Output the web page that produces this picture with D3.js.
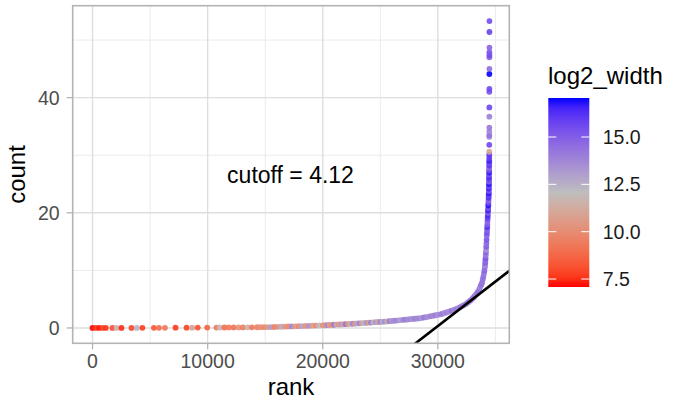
<!DOCTYPE html>
<meta charset="utf-8">
<head>
  <title>count vs rank</title>
  <script src="https://d3js.org/d3.v7.min.js"></script>
  <style>
    body { margin: 0; background: #fff; }
    text { font-family: "Liberation Sans", Arial, sans-serif; }
    .grid-major { stroke: #dedede; stroke-width: 1.4px; }
    .grid-minor { stroke: #ebebeb; stroke-width: 1px; }
    .tick-mark { stroke: #b3b3b3; stroke-width: 1.3px; }
    .tick-label { font-size: 19.5px; fill: #4d4d4d; }
  </style>
</head>
<body>
<script>

// points, in rank order
var rank = [
  0, 290, 570, 870, 1150, 1730, 2080, 2510, 3380, 3840, 4330, 5330, 5770, 6290, 7210,
  8170, 8660, 9140, 9960, 10760, 11050, 11450, 11830, 12260, 12690, 13070, 13470, 13850, 14290, 14580,
  14900, 15200, 15500, 15800, 16100, 16400, 16700, 17000, 17300, 17600, 17900, 18200, 18500, 18800, 19100, 19400, 19700, 20000,
  20200, 20400, 20600, 20800, 21000, 21200, 21400, 21600, 21800, 22000,
  22200, 22400, 22600, 22800, 23000, 23200, 23400, 23600, 23800, 24000,
  24200, 24400, 24600, 24800, 25000, 25200, 25400, 25600, 25800, 26000,
  26200, 26400, 26600, 26800, 27000, 27200, 27400, 27600, 27800, 28000,
  28200, 28400, 28600, 28800, 29000, 29200, 29400, 29600, 29800, 30000,
  30200, 30400, 30600, 30800, 31000, 31200, 31400, 31600, 31800, 32000, 32200, 32400,
  32550, 32700, 32850, 33000, 33100, 33200, 33300, 33400, 33500, 33600, 33700, 33780, 33850,
  33900, 33950, 34000, 34040, 34080, 34100, 34115, 34130, 34145, 34160, 34175, 34190, 34205, 34220, 34235, 34250,
  34262, 34275, 34287, 34300, 34312, 34325, 34337, 34350,
  34360, 34370, 34380, 34390, 34400, 34410, 34420,
  34425, 34430, 34434, 34437, 34440, 34443, 34446, 34448, 34450, 34452, 34454, 34456, 34458, 34460, 34462,
  34464, 34465, 34466, 34467, 34468, 34469, 34470, 34471, 34472, 34473,
  34474, 34475, 34476, 34477, 34478, 34479, 34480, 34481, 34482, 34483
];

var count = [
  0, 0, 0, 0, 0, 0, 0, 0, 0.01, 0.01, 0.02, 0.02, 0.03, 0.03, 0.04,
  0.05, 0.05, 0.06, 0.06, 0.07, 0.08, 0.08, 0.09, 0.09, 0.1, 0.1, 0.11, 0.11, 0.12, 0.13,
  0.13, 0.15, 0.16, 0.17, 0.19, 0.21, 0.23, 0.25, 0.27, 0.29, 0.31, 0.33, 0.35, 0.37, 0.39, 0.41, 0.43, 0.45,
  0.47, 0.49, 0.51, 0.53, 0.56, 0.58, 0.60, 0.62, 0.64, 0.66,
  0.69, 0.71, 0.73, 0.75, 0.78, 0.81, 0.83, 0.86, 0.89, 0.92,
  0.94, 0.97, 1.00, 1.03, 1.05, 1.08, 1.11, 1.14, 1.17, 1.21,
  1.25, 1.29, 1.33, 1.37, 1.41, 1.44, 1.48, 1.52, 1.56, 1.60,
  1.64, 1.68, 1.74, 1.82, 1.89, 1.97, 2.05, 2.13, 2.21, 2.28,
  2.36, 2.47, 2.60, 2.73, 2.87, 3.00, 3.13, 3.30, 3.50, 3.70, 3.90, 4.10,
  4.33, 4.57, 4.83, 5.1, 5.3, 5.55, 5.8, 6.05, 6.3, 6.75, 7.2, 7.55, 7.9,
  8.4, 8.9, 9.4, 9.9, 10.5, 10.9, 11.3, 11.7, 12.1, 12.6, 13.1, 13.6, 14.1, 14.7, 15.3, 16.0,
  16.5, 17.0, 17.5, 18.0, 18.5, 19.0, 19.5, 20.0,
  20.4, 20.8, 21.3, 21.7, 22.1, 22.6, 23.0,
  23.4, 23.8, 24.2, 24.6, 25.0, 25.4, 25.8, 26.2, 26.6, 27.0, 27.4, 27.8, 28.2, 28.6, 29.0,
  29.5, 30.1, 30.6, 31.8, 33.2, 33.5, 34.1, 34.8, 36.7, 38.3,
  41.0, 41.5, 44.1, 45.0, 47.0, 47.4, 47.9, 48.7, 51.4, 53.3
];

var log2Width = [
  7.08, 7.6, 7.2, 7.8, 7.5, 8.0, 11.6, 7.4, 7.9, 12.4, 7.7, 8.3, 8.9, 9.2, 7.6,
  7.8, 10.9, 8.1, 8.6, 9.3, 11.8, 9.0, 9.4, 9.1, 10.2, 9.5, 11.4, 9.3, 9.6, 10.1,
  9.8, 10.4, 13.2, 9.6, 10.1, 12.6, 10.3, 9.9, 13.8, 10.5, 10.0, 12.9, 10.2, 13.5, 10.6, 9.9, 12.2, 10.4,
  10.3, 13.6, 10.8, 10.1, 14.2, 11.2, 10.5, 13.1, 10.9, 14.4,
  10.6, 11.5, 13.8, 10.4, 12.7, 14.0, 10.9, 11.8, 13.5, 10.7,
  14.1, 12.2, 13.3, 11.0, 13.9, 12.5, 13.6, 11.4, 14.0, 13.2,
  13.6, 13.9, 13.4, 12.9, 13.8, 14.1, 13.5, 13.7, 13.3, 14.0,
  13.6, 13.8, 13.2, 14.2, 13.7, 13.5, 13.9, 13.6, 14.0, 13.4,
  13.8, 14.1, 13.6, 13.9, 13.5, 14.2, 13.8, 14.0, 13.7, 14.3, 13.9, 14.1,
  14.0, 13.8, 14.2, 13.9, 14.1, 14.3, 13.7, 14.0, 14.4, 14.1, 13.9, 14.5, 14.2,
  14.3, 14.6, 14.1, 14.8, 14.4, 13.6, 14.9, 14.5, 15.2, 14.2, 14.7, 13.4, 15.0, 14.6, 15.3, 14.8,
  15.5, 14.9, 16.2, 15.1, 14.7, 15.8, 16.4, 15.0,
  16.6, 15.4, 16.9, 15.7, 14.8, 16.3, 15.9,
  16.8, 15.2, 16.5, 15.6, 16.9, 14.9, 15.8, 16.4, 15.3, 16.7, 15.5, 14.6, 16.1, 15.4, 16.6,
  15.9, 16.2, 11.0, 15.6, 13.9, 14.3, 13.8, 14.2, 14.0, 15.7,
  15.4, 15.6, 17.06, 14.5, 15.0, 15.5, 15.2, 14.8, 15.8, 15.5
];

var xTicks = [0, 10000, 20000, 30000];
var xMinor = [5000, 15000, 25000, 35000];
var yTicks = [0, 20, 40];
var yMinor = [10, 30, 50];
var legendTicks = [7.5, 10, 12.5, 15];

var cutoff = 4.12, cutoffRank = 32450;
var note = "cutoff = 4.12", noteRank = 17200, noteCount = 26.6;

var data = rank.map(function(r, i) { return {rank: r, count: count[i], w: log2Width[i]}; });

var W = 677, H = 410;
var panel = {left: 72.7, right: 509.3, top: 5.7, bottom: 343.3};

var svg = d3.select("body").append("svg")
    .attr("width", W)
    .attr("height", H);

function expand(ext) {
  var pad = (ext[1] - ext[0]) * 0.05;
  return [ext[0] - pad, ext[1] + pad];
}

var x = d3.scaleLinear()
    .domain(expand(d3.extent(rank)))
    .range([panel.left, panel.right]);

var y = d3.scaleLinear()
    .domain(expand(d3.extent(count)))
    .range([panel.bottom, panel.top]);

var wExt = d3.extent(log2Width);
var color = d3.scaleLinear()
    .domain([wExt[0], (wExt[0] + wExt[1]) / 2, wExt[1]])
    .range(["#ff0000", "#bebebe", "#0000ff"])
    .interpolate(d3.interpolateLab);

svg.append("clipPath").attr("id", "clip")
  .append("rect")
    .attr("x", panel.left).attr("y", panel.top)
    .attr("width", panel.right - panel.left)
    .attr("height", panel.bottom - panel.top);

// grid
var grid = svg.append("g");
grid.selectAll(".vmin").data(xMinor).enter().append("line")
    .attr("class", "grid-minor")
    .attr("x1", x).attr("x2", x)
    .attr("y1", panel.top).attr("y2", panel.bottom);
grid.selectAll(".hmin").data(yMinor).enter().append("line")
    .attr("class", "grid-minor")
    .attr("y1", y).attr("y2", y)
    .attr("x1", panel.left).attr("x2", panel.right);
grid.selectAll(".vmaj").data(xTicks).enter().append("line")
    .attr("class", "grid-major")
    .attr("x1", x).attr("x2", x)
    .attr("y1", panel.top).attr("y2", panel.bottom);
grid.selectAll(".hmaj").data(yTicks).enter().append("line")
    .attr("class", "grid-major")
    .attr("y1", y).attr("y2", y)
    .attr("x1", panel.left).attr("x2", panel.right);

// points
svg.append("g")
    .attr("clip-path", "url(#clip)")
  .selectAll("circle")
  .data(data)
  .enter().append("circle")
    .attr("cx", function(d) { return x(d.rank); })
    .attr("cy", function(d) { return y(d.count); })
    .attr("r", 2.9)
    .style("fill", function(d) { return color(d.w); })
    .style("fill-opacity", 0.9);

// tangent line through the cutoff
var slope = d3.max(count) / d3.max(rank);
var xd = x.domain();
svg.append("line")
    .attr("clip-path", "url(#clip)")
    .attr("x1", x(xd[0])).attr("y1", y(cutoff + slope * (xd[0] - cutoffRank)))
    .attr("x2", x(xd[1])).attr("y2", y(cutoff + slope * (xd[1] - cutoffRank)))
    .style("stroke", "#000")
    .style("stroke-width", 2.6);

svg.append("text")
    .attr("x", x(noteRank))
    .attr("y", y(noteCount))
    .attr("text-anchor", "middle")
    .attr("dy", "0.35em")
    .style("font-size", "23px")
    .style("fill", "#000")
    .text(note);

// panel border
svg.append("rect")
    .attr("x", panel.left).attr("y", panel.top)
    .attr("width", panel.right - panel.left)
    .attr("height", panel.bottom - panel.top)
    .style("fill", "none")
    .style("stroke", "#b3b3b3")
    .style("stroke-width", 1.6);

// axes
svg.selectAll(".xtick").data(xTicks).enter().append("line")
    .attr("class", "tick-mark")
    .attr("x1", x).attr("x2", x)
    .attr("y1", panel.bottom).attr("y2", panel.bottom + 6);
svg.selectAll(".xlab").data(xTicks).enter().append("text")
    .attr("class", "tick-label")
    .attr("x", x)
    .attr("y", panel.bottom + 24.7)
    .attr("text-anchor", "middle")
    .text(function(d) { return d; });

svg.selectAll(".ytick").data(yTicks).enter().append("line")
    .attr("class", "tick-mark")
    .attr("y1", y).attr("y2", y)
    .attr("x1", panel.left - 6).attr("x2", panel.left);
svg.selectAll(".ylab").data(yTicks).enter().append("text")
    .attr("class", "tick-label")
    .attr("x", panel.left - 13)
    .attr("y", y)
    .attr("dy", "0.36em")
    .attr("text-anchor", "end")
    .text(function(d) { return d; });

svg.append("text")
    .attr("x", (panel.left + panel.right) / 2)
    .attr("y", 395)
    .attr("text-anchor", "middle")
    .style("font-size", "24px")
    .text("rank");

svg.append("text")
    .attr("transform", "translate(25," + ((panel.top + panel.bottom) / 2) + ") rotate(-90)")
    .attr("text-anchor", "middle")
    .style("font-size", "24px")
    .text("count");

// legend
var leg = {x: 548.3, w: 41, top: 98, bottom: 287};
var ly = d3.scaleLinear().domain(wExt).range([leg.bottom, leg.top]);

var grad = svg.append("defs").append("linearGradient")
    .attr("id", "grad")
    .attr("x1", 0).attr("y1", 1).attr("x2", 0).attr("y2", 0);
d3.range(0, 1.0001, 0.05).forEach(function(t) {
  grad.append("stop")
      .attr("offset", t)
      .attr("stop-color", color(wExt[0] + t * (wExt[1] - wExt[0])));
});

svg.append("rect")
    .attr("x", leg.x).attr("y", leg.top)
    .attr("width", leg.w).attr("height", leg.bottom - leg.top)
    .style("fill", "url(#grad)");

legendTicks.forEach(function(v) {
  svg.append("line")
      .attr("x1", leg.x).attr("x2", leg.x + 8)
      .attr("y1", ly(v)).attr("y2", ly(v))
      .style("stroke", "#fff").style("stroke-width", 1);
  svg.append("line")
      .attr("x1", leg.x + leg.w - 8).attr("x2", leg.x + leg.w)
      .attr("y1", ly(v)).attr("y2", ly(v))
      .style("stroke", "#fff").style("stroke-width", 1);
  svg.append("text")
      .attr("x", 602.7)
      .attr("y", ly(v))
      .attr("dy", "0.36em")
      .style("font-size", "19.5px")
      .style("fill", "#1a1a1a")
      .text(d3.format(".1f")(v));
});

svg.append("text")
    .attr("x", 548)
    .attr("y", 84)
    .style("font-size", "24px")
    .text("log2_width");

</script>
</body>
